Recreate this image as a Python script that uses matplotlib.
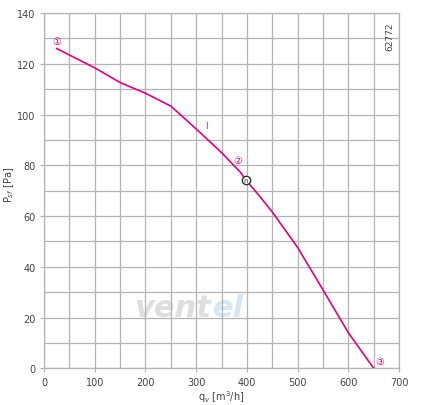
import matplotlib.pyplot as plt

# curve
q = [25, 100, 150, 200, 250, 288, 320, 350, 387, 398, 426, 450, 500, 550, 600, 650]
p = [126, 118.4, 112.6, 108.4, 103.3, 96.5, 90.6, 85, 77.3, 74.2, 67.6, 61.6, 47.6, 30.9, 14, 0]

labels = ['①', '②', '③']
label_q = [25, 381, 661]
label_p = [129, 82, 3]
op_q, op_p = 398, 74.2

pink = '#e5007d'
grid = '#b4b4b4'
txt = '#444444'

fig = plt.figure(figsize=(4.21, 4.06), dpi=100)
ax = fig.add_axes([0.1045, 0.0904, 0.8435, 0.8751])

ax.set_xlim(0, 700)
ax.set_ylim(0, 140)
ax.set_xticks(range(0, 701, 100))
ax.set_yticks(range(0, 141, 20))
ax.set_xticks(range(0, 701, 50), minor=True)
ax.set_yticks(range(0, 141, 10), minor=True)
ax.grid(True, which='both', color=grid, lw=0.9)
ax.tick_params(which='major', length=3, color=grid, labelsize=7, labelcolor=txt, pad=3)
ax.tick_params(which='minor', length=0)
for s in ax.spines.values():
    s.set_color(grid)
    s.set_linewidth(0.9)
ax.set_axisbelow(True)

# faint watermark
ax.text(330, 24, 'vent', fontsize=22, fontweight='bold', style='italic',
        color='#dedede', ha='right', va='center', zorder=0)
ax.text(332, 24, 'el', fontsize=22, fontweight='bold', style='italic',
        color='#d6e6f2', ha='left', va='center', zorder=0)

ax.plot(q, p, color=pink, lw=1.2, zorder=3)
for s, x, y in zip(labels, label_q, label_p):
    ax.text(x, y, s, color=pink, fontsize=7, ha='center', va='center',
            family=['DejaVu Sans', 'Noto Sans CJK JP'], zorder=4)
ax.text(320, 95.5, 'I', color=pink, fontsize=6, ha='center', va='center')
ax.plot(op_q, op_p, 'o', ms=6, mfc='white', mec='#333333', mew=1.0, zorder=5)
ax.text(op_q, op_p, 'n', fontsize=5, color='#333333', ha='center', va='center', zorder=6)

ax.text(0.975, 0.975, '62772', transform=ax.transAxes, rotation=90,
        fontsize=6.5, color=txt, ha='center', va='top')

ax.set_xlabel('q$_v$ [m$^3$/h]', fontsize=7, color=txt, labelpad=1)
ax.set_ylabel('P$_{sf}$ [Pa]', fontsize=7, color=txt)
ax.yaxis.set_label_coords(-0.08, 0.52)

fig.savefig('out.png', dpi=100, facecolor='white')
